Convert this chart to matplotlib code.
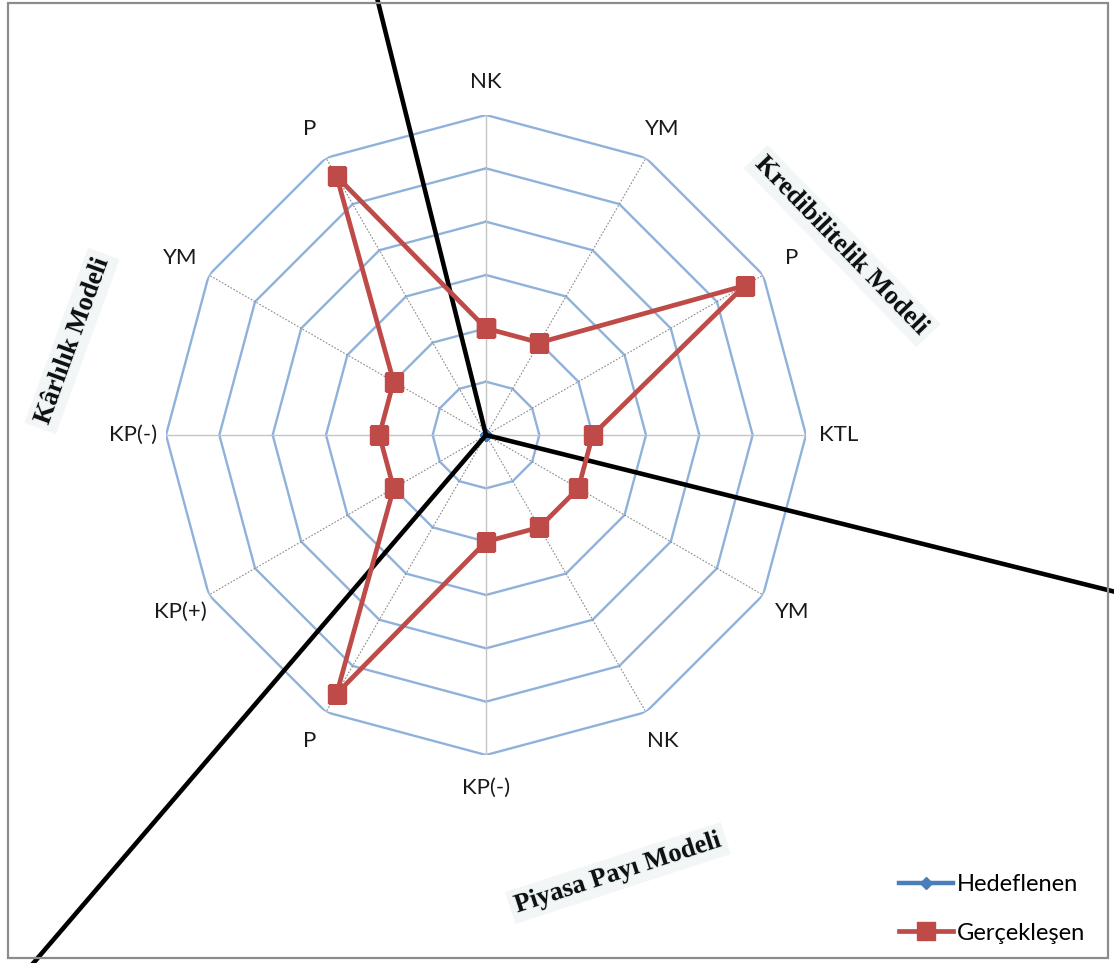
import numpy as np
import matplotlib.pyplot as plt
from matplotlib.patches import Rectangle
import matplotlib.patheffects as pe

# radar data (clockwise from top)
categories = ['NK', 'YM', 'P', 'KTL', 'YM', 'NK', 'KP(-)', 'P', 'KP(+)', 'KP(-)', 'YM', 'P']
hedeflenen = [0, 0, 0, 0, 0, 0, 0, 0, 0, 0, 0, 0]
gerceklesen = [2, 2, 5.6, 2, 2, 2, 2, 5.6, 2, 2, 2, 5.6]
levels = [1, 2, 3, 4, 5, 6]

# model group names and divider directions (degrees clockwise from top)
models = ['Kredibilitelik Modeli', 'Kârlılık Modeli', 'Piyasa Payı Modeli']
divider_angles = [346.0, 104.0, 220.6]

W, H = 1114, 963
fig = plt.figure(figsize=(W / 100, H / 100), dpi=100)
plt.rcParams['font.family'] = ['Lato', 'DejaVu Sans']

cx, cy, R = 486, 435, 320
ax = fig.add_axes([(cx - R) / W, 1 - (cy + R) / H, 2 * R / W, 2 * R / H], projection='polar')
ax.set_theta_offset(np.pi / 2)
ax.set_theta_direction(-1)
ax.set_ylim(0, 6)
ax.grid(False)
ax.set_xticks([])
ax.set_yticks([])
ax.spines['polar'].set_visible(False)
ax.patch.set_alpha(0)

n = len(categories)
ang = np.arange(n) * 2 * np.pi / n
ang_c = np.append(ang, ang[0])

# rings
for lv in levels:
  ax.plot(ang_c, [lv] * (n + 1), color='#8fb1da', lw=1.7, zorder=1)

# spokes
for a in ang:
  deg = np.degrees(a) % 90
  if deg < 1:
    ax.plot([a, a], [0, 6], color='#c4c4c4', lw=1.0, zorder=1)
  else:
    ax.plot([a, a], [0, 6], color='#8a8a8a', lw=0.8, ls=(0, (1.5, 1.5)), zorder=1)

# labels
for a, lab in zip(ang, categories):
  ax.text(a, 6.62, lab, ha='center', va='center', fontsize=16, color='#1a1a1a')

l1, = ax.plot(ang_c, hedeflenen + hedeflenen[:1], color='#4a7ebb', lw=3.2, marker='D',
              markersize=6, zorder=2, label='Hedeflenen')
l2, = ax.plot(ang_c, gerceklesen + gerceklesen[:1], color='#be4b48', lw=3.4, marker='s',
              markersize=12.5, zorder=4, label='Gerçekleşen')

# border
border = Rectangle((8 / W, 1 - 958 / H), 1100 / W, 955 / H, transform=fig.transFigure,
                   fill=False, edgecolor='#8c8c8c', lw=1.6)
fig.patches.append(border)

# dividers
for d in divider_angles:
  a = np.radians(d)
  ln, = ax.plot([a, a], [0, 14], color='black', lw=3.3, zorder=3, clip_on=False)
  ln.set_clip_path(border)

# model titles
title_pos = [(842, 246, -46), (72, 341, 70), (618, 873, 18)]
for txt, (px, py, rot) in zip(models, title_pos):
  fig.text(px / W, 1 - py / H, txt, ha='center', va='center', rotation=rot,
           fontsize=19, fontweight='bold', family='Liberation Serif', color='#111111',
           bbox=dict(boxstyle='square,pad=0.2', facecolor='#f2f6f7', edgecolor='none'),
           path_effects=[pe.withStroke(linewidth=1.5, foreground='#e4ecee')])

fig.legend(handles=[l1, l2], loc='center left', bbox_to_anchor=(887 / W, 1 - 909 / H),
           frameon=False, fontsize=17, handlelength=2.3, handletextpad=0.15,
           labelspacing=1.15, borderpad=0)

fig.savefig('out.png', dpi=100)
